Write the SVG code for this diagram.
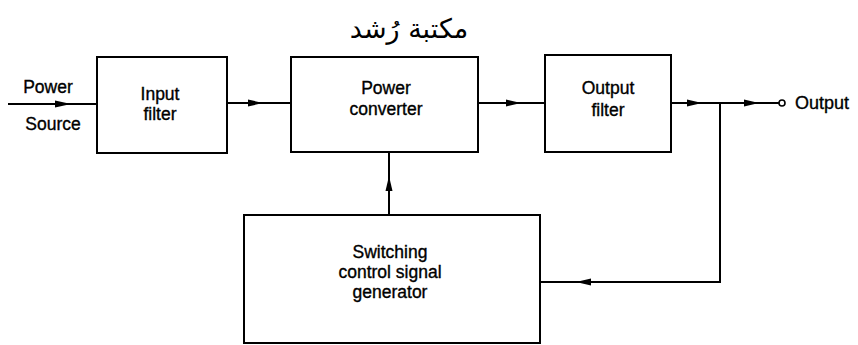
<svg xmlns="http://www.w3.org/2000/svg" width="858" height="345" viewBox="0 0 858 345">
<style>
.box{fill:#fff;stroke:#000;stroke-width:2}
.ln{fill:none;stroke:#000;stroke-width:2}
.t{font-family:"Liberation Sans",Arial,sans-serif;font-size:17.5px;fill:#000;stroke:#000;stroke-width:0.35;text-anchor:middle}
.ah{fill:#000}
</style>
<text x="409" y="38" font-family="'DejaVu Sans','Noto Sans',sans-serif" font-size="27" text-anchor="middle" direction="rtl">مكتبة رُشد</text>
<g id="connectors">
<line class="ln" x1="8" y1="104" x2="97" y2="104"/>
<polygon class="ah" points="71,104 55,100.5 55,107.5"/>
<line class="ln" x1="227" y1="103" x2="291" y2="103"/>
<polygon class="ah" points="263,103 248,99.5 248,106.5"/>
<line class="ln" x1="478" y1="103" x2="545" y2="103"/>
<polygon class="ah" points="521,103 506,99.5 506,106.5"/>
<line class="ln" x1="671" y1="103" x2="779" y2="103"/>
<polygon class="ah" points="702,103 687,99.5 687,106.5"/>
<polygon class="ah" points="759,103 744,99.5 744,106.5"/>
<circle cx="782" cy="103" r="3" fill="#fff" stroke="#000" stroke-width="1.6"/>
<polyline class="ln" points="720,103 720,282 540,282"/>
<polygon class="ah" points="576,282 591,278.5 591,285.5"/>
<line class="ln" x1="389" y1="215" x2="389" y2="152"/>
<polygon class="ah" points="389,176 385.5,191 392.5,191"/>
</g>
<text class="t" x="48" y="93">Power</text>
<text class="t" x="53" y="130">Source</text>
<g id="input-filter">
<rect class="box" x="97" y="57" width="130" height="96"/>
<text class="t" x="160" y="100">Input</text>
<text class="t" x="160" y="120">filter</text>
</g>
<g id="power-converter">
<rect class="box" x="291" y="57" width="187" height="95"/>
<text class="t" x="386" y="94">Power</text>
<text class="t" x="386" y="115">converter</text>
</g>
<g id="output-filter">
<rect class="box" x="545" y="55" width="126" height="97"/>
<text class="t" x="608" y="94">Output</text>
<text class="t" x="608" y="116">filter</text>
</g>
<g id="switching">
<rect class="box" x="244" y="215" width="296" height="128"/>
<text class="t" x="390" y="258">Switching</text>
<text class="t" x="390" y="278">control signal</text>
<text class="t" x="390" y="298">generator</text>
</g>
<text class="t" x="795" y="109" style="font-size:18px;text-anchor:start">Output</text>
</svg>
